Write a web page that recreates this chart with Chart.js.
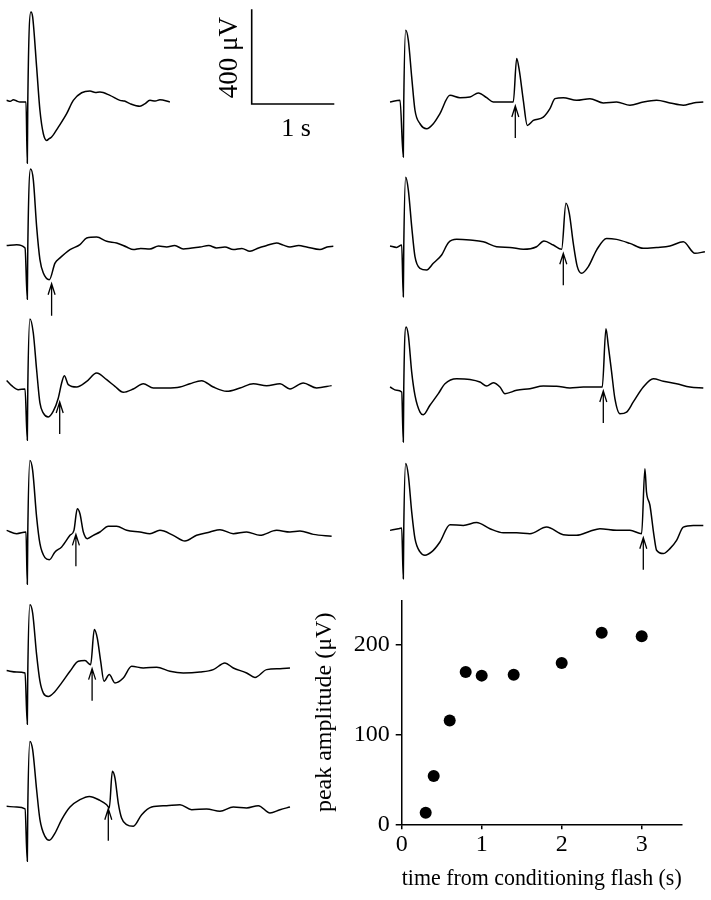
<!DOCTYPE html>
<html>
<head>
<meta charset="utf-8">
<script src="https://cdn.jsdelivr.net/npm/chart.js@4.4.1/dist/chart.umd.min.js"></script>
<style>
  html, body { margin: 0; padding: 0; background: #fff; }
  #fig { position: relative; width: 711px; height: 900px; overflow: hidden; }
  #fig canvas { position: absolute; }
</style>
</head>
<body>
<div id="fig"></div>
<script>
// ERG sweeps, [time from conditioning flash (s), voltage (uV)]
const sweepCond = [[-0.255,7],[-0.21,3],[-0.172,10],[-0.13,4],[-0.09,0],[-0.016,0],[0,-258],[0.006,0],[0.045,380],[0.066,359],[0.115,148],[0.156,-35],[0.198,-134],[0.239,-162],[0.27,-155],[0.3,-148],[0.383,-106],[0.486,-49],[0.568,7],[0.671,39],[0.774,46],[0.84,40],[0.897,42],[1.02,28],[1.144,7],[1.2,4],[1.267,-7],[1.391,-18],[1.45,-8],[1.514,7],[1.58,4],[1.637,10],[1.76,0]];
const sweep03 = [[-0.255,6],[-0.131,10],[-0.028,-4],[0,-220],[0.006,0],[0.041,329],[0.074,284],[0.115,87],[0.156,-53],[0.198,-110],[0.272,-138],[0.342,-68],[0.404,-46],[0.527,-11],[0.65,10],[0.733,38],[0.856,42],[0.98,24],[1.103,17],[1.227,0],[1.309,-11],[1.4,-6],[1.514,-8],[1.62,4],[1.72,0],[1.82,6],[1.926,-8],[2.132,0],[2.24,6],[2.337,-4],[2.44,0],[2.543,-11],[2.649,-6],[2.749,-18],[2.855,-4],[2.955,6],[3.078,17],[3.16,8],[3.243,0],[3.35,6],[3.449,0],[3.613,-11],[3.7,0],[3.778,3]];
const sweep04 = [[-0.255,32],[-0.193,10],[-0.111,-7],[-0.028,-4],[0,-220],[0.006,0],[0.033,291],[0.074,232],[0.115,77],[0.156,-63],[0.198,-106],[0.259,-122],[0.321,-98],[0.383,-42],[0.424,21],[0.457,52],[0.506,14],[0.609,4],[0.733,28],[0.856,63],[0.98,35],[1.082,7],[1.185,-18],[1.309,-4],[1.432,18],[1.556,0],[1.72,0],[1.885,4],[2.008,18],[2.152,31],[2.296,4],[2.461,-14],[2.626,0],[2.79,18],[2.955,10],[3.12,18],[3.243,-4],[3.407,21],[3.572,0],[3.757,10]];
const sweep06 = [[-0.255,7],[-0.131,-7],[-0.016,0],[0,-220],[0.006,0],[0.033,302],[0.066,260],[0.115,63],[0.156,-49],[0.218,-108],[0.272,-117],[0.342,-84],[0.424,-63],[0.527,-14],[0.576,7],[0.617,98],[0.65,77],[0.692,0],[0.741,-28],[0.815,-14],[0.897,0],[1.0,24],[1.103,24],[1.227,7],[1.391,0],[1.514,-7],[1.637,7],[1.802,-14],[1.946,-38],[2.09,-14],[2.255,0],[2.379,10],[2.543,-7],[2.708,0],[2.872,-14],[3.078,7],[3.243,0],[3.366,4],[3.531,-10],[3.757,-18]];
const sweep08 = [[-0.255,6],[-0.131,0],[-0.028,-4],[0,-220],[0.006,0],[0.033,284],[0.066,249],[0.115,73],[0.156,-39],[0.198,-89],[0.259,-103],[0.342,-82],[0.424,-46],[0.527,3],[0.63,45],[0.712,48],[0.782,31],[0.827,179],[0.864,143],[0.906,45],[0.947,-39],[1.012,-11],[1.082,-46],[1.185,-25],[1.288,24],[1.432,17],[1.597,20],[1.761,3],[1.926,-4],[2.132,0],[2.296,10],[2.44,38],[2.543,17],[2.708,-4],[2.811,-23],[2.955,10],[3.12,14],[3.243,17]];
const sweep10 = [[-0.255,7],[-0.131,4],[-0.028,-4],[0,-225],[0.006,0],[0.033,281],[0.066,246],[0.115,77],[0.156,-49],[0.218,-120],[0.272,-136],[0.342,-106],[0.424,-49],[0.527,4],[0.65,35],[0.766,49],[0.897,32],[0.98,14],[1.012,0],[1.05,155],[1.082,127],[1.123,21],[1.164,-42],[1.226,-70],[1.309,-77],[1.412,-28],[1.535,4],[1.72,10],[1.885,14],[2.029,-7],[2.214,-4],[2.379,-14],[2.543,4],[2.708,0],[2.852,10],[2.996,-21],[3.12,-7],[3.243,4]];
const sweep14 = [[-0.166,-4],[-0.041,3],[0,-236],[0.006,0],[0.03,298],[0.063,256],[0.105,101],[0.146,-39],[0.209,-96],[0.292,-117],[0.375,-96],[0.458,-53],[0.583,24],[0.708,14],[0.833,17],[0.938,34],[1.042,14],[1.125,-4],[1.25,-4],[1.375,-4],[1.417,179],[1.45,129],[1.5,3],[1.55,-103],[1.625,-82],[1.75,-68],[1.833,-32],[1.896,10],[2.0,14],[2.166,3],[2.333,10],[2.5,-8],[2.666,-4],[2.833,-18],[3.0,-4],[3.166,3],[3.333,-8],[3.5,-18],[3.625,-8],[3.75,-4]];
const sweep20 = [[-0.166,0],[-0.083,-6],[-0.02,4],[0,-214],[0.006,0],[0.03,290],[0.063,236],[0.105,82],[0.146,-45],[0.209,-94],[0.292,-101],[0.375,-73],[0.479,-38],[0.563,14],[0.667,28],[0.833,25],[1.0,18],[1.166,-3],[1.333,-6],[1.5,-14],[1.666,-3],[1.758,21],[1.875,4],[1.979,-14],[2.033,180],[2.075,138],[2.125,11],[2.175,-87],[2.229,-115],[2.313,-87],[2.416,-17],[2.541,32],[2.666,28],[2.833,11],[3.0,-10],[3.166,-6],[3.333,0],[3.5,18],[3.645,-31],[3.77,-24]];
const sweep25 = [[-0.166,0],[-0.083,-14],[-0.02,-21],[0,-232],[0.006,0],[0.034,253],[0.063,218],[0.105,63],[0.146,-35],[0.209,-106],[0.25,-117],[0.333,-77],[0.438,-28],[0.521,14],[0.667,35],[0.833,32],[0.958,21],[1.042,4],[1.125,18],[1.208,0],[1.271,-28],[1.416,-14],[1.583,-7],[1.75,4],[1.916,3],[2.083,-4],[2.25,0],[2.416,0],[2.487,0],[2.533,246],[2.562,176],[2.604,63],[2.645,-49],[2.708,-113],[2.791,-106],[2.875,-63],[3.0,0],[3.125,35],[3.25,24],[3.416,14],[3.583,0],[3.75,-4]];
const sweep30 = [[-0.166,-10],[-0.062,-3],[-0.02,0],[0,-214],[0.006,0],[0.03,272],[0.063,222],[0.105,68],[0.146,-45],[0.209,-101],[0.271,-115],[0.354,-101],[0.458,-59],[0.583,14],[0.75,11],[0.916,23],[1.083,-3],[1.25,-20],[1.416,-20],[1.583,-24],[1.791,4],[2.0,-28],[2.166,-31],[2.333,-14],[2.458,-3],[2.666,-10],[2.833,-10],[2.979,-24],[3.02,250],[3.04,152],[3.083,96],[3.133,-31],[3.166,-94],[3.25,-108],[3.333,-87],[3.416,-52],[3.5,4],[3.625,11],[3.75,11]];

// test flash intervals (s) and peak amplitude of the test response (uV)
const intervals = [0.3, 0.4, 0.6, 0.8, 1.0, 1.4, 2.0, 2.5, 3.0];
const peakAmp = [13, 54, 116, 170, 166, 167, 180, 214, 210];
const xTicks = [0, 1, 2, 3];
const yTicks = [0, 100, 200];

// scale bar: 1 s by 400 uV
const scaleBarT = [0, 0, 1];
const scaleBarUV = [400, 0, 0];

Chart.defaults.font.family = '"Liberation Serif", "Times New Roman", serif';
Chart.defaults.color = '#000';

const fig = document.getElementById('fig');
const UV_PX = 0.237;   // px per uV
function addCanvas(left, top, w, h) {
  const c = document.createElement('canvas');
  c.width = w; c.height = h;
  c.style.left = left + 'px'; c.style.top = top + 'px';
  c.style.width = w + 'px'; c.style.height = h + 'px';
  fig.appendChild(c);
  return c;
}

// arrow under the trace at the test flash
const testArrow = {
  id: 'testArrow',
  afterDatasetsDraw(chart, args, opts) {
    if (opts.time == null) return;
    const pts = chart.data.datasets[0].data;
    let v = pts[0].y;
    for (const p of pts) if (p.x <= opts.time) v = p.y;
    const x = chart.scales.x.getPixelForValue(opts.time);
    const tip = chart.scales.y.getPixelForValue(v) + 4;
    const ctx = chart.ctx;
    ctx.save();
    ctx.strokeStyle = '#000';
    ctx.lineWidth = 1.3;
    ctx.beginPath();
    ctx.moveTo(x, tip); ctx.lineTo(x, tip + 32);
    ctx.moveTo(x - 3.5, tip + 11); ctx.lineTo(x, tip); ctx.lineTo(x + 3.5, tip + 11);
    ctx.stroke();
    ctx.restore();
  }
};

// column layouts: canvas x range and the flash position / time scale
const cols = {
  left:  {left: 0,   width: 340, flashX: 27.3,  pxPerS: 81},
  right: {left: 385, width: 326, flashX: 18.3,  pxPerS: 80}
};
const panels = [
  {sweep: sweepCond, col: 'left',  base: 101.7, test: null},
  {sweep: sweep03,   col: 'left',  base: 247.3, test: intervals[0]},
  {sweep: sweep04,   col: 'left',  base: 388.3, test: intervals[1]},
  {sweep: sweep06,   col: 'left',  base: 531.7, test: intervals[2]},
  {sweep: sweep08,   col: 'left',  base: 672.3, test: intervals[3]},
  {sweep: sweep10,   col: 'left',  base: 808.3, test: intervals[4]},
  {sweep: sweep14,   col: 'right', base: 100.7, test: intervals[5]},
  {sweep: sweep20,   col: 'right', base: 246.0, test: intervals[6]},
  {sweep: sweep25,   col: 'right', base: 386.7, test: intervals[7]},
  {sweep: sweep30,   col: 'right', base: 527.7, test: intervals[8]}
];

const above = 100, below = 70;
panels.forEach(p => {
  const c = cols[p.col];
  const cv = addCanvas(c.left, p.base - above, c.width, above + below);
  new Chart(cv, {
    type: 'line',
    plugins: [testArrow],
    data: {
      datasets: [{
        data: p.sweep.map(([t, v]) => ({x: t, y: v})),
        borderColor: '#000',
        borderWidth: 1.5,
        pointRadius: 0,
        cubicInterpolationMode: 'monotone'
      }]
    },
    options: {
      responsive: false,
      animation: false,
      events: [],
      layout: {padding: 0},
      plugins: {legend: {display: false}, tooltip: {enabled: false}, testArrow: {time: p.test}},
      scales: {
        x: {type: 'linear', display: false, min: -c.flashX / c.pxPerS, max: (c.width - c.flashX) / c.pxPerS},
        y: {display: false, min: -below / UV_PX, max: above / UV_PX}
      }
    }
  });
});

// scale bar
const barLabels = {
  id: 'barLabels',
  afterDatasetsDraw(chart) {
    const {x, y} = chart.scales;
    const ctx = chart.ctx;
    ctx.save();
    ctx.fillStyle = '#000';
    ctx.font = '27px "Liberation Serif"';
    ctx.textAlign = 'center';
    ctx.textBaseline = 'middle';
    ctx.translate(x.getPixelForValue(0) - 22, y.getPixelForValue(scaleBarUV[0] / 2) + 1);
    ctx.rotate(-Math.PI / 2);
    ctx.fillText(scaleBarUV[0] + ' \u03bcV', 0, 0);
    ctx.restore();
    ctx.save();
    ctx.fillStyle = '#000';
    ctx.font = '26px "Liberation Serif"';
    ctx.textAlign = 'center';
    ctx.textBaseline = 'middle';
    ctx.fillText(scaleBarT[2] + ' s', x.getPixelForValue(scaleBarT[2] / 2) + 3, y.getPixelForValue(0) + 25);
    ctx.restore();
  }
};
{
  const left = 200, top = 0, w = 160, h = 150, x0 = 51.7, y0 = 104, sPx = 82.6, uvPx = 94.7 / 400;
  const cv = addCanvas(left, top, w, h);
  new Chart(cv, {
    type: 'line',
    plugins: [barLabels],
    data: {
      datasets: [{
        data: scaleBarT.map((t, i) => ({x: t, y: scaleBarUV[i]})),
        borderColor: '#000', borderWidth: 1.6, pointRadius: 0, tension: 0
      }]
    },
    options: {
      responsive: false, animation: false, events: [],
      plugins: {legend: {display: false}, tooltip: {enabled: false}},
      scales: {
        x: {type: 'linear', display: false, min: -x0 / sPx, max: (w - x0) / sPx},
        y: {display: false, min: -(h - y0) / uvPx, max: y0 / uvPx}
      }
    }
  });
}

// peak amplitude vs interval
{
  const cv = addCanvas(300, 580, 411, 320);
  const axisFont = {family: '"Liberation Serif"', size: 24};
  new Chart(cv, {
    type: 'scatter',
    data: {
      datasets: [{
        data: intervals.map((t, i) => ({x: t, y: peakAmp[i]})),
        backgroundColor: '#000',
        borderWidth: 0,
        pointRadius: 6,
        clip: false
      }]
    },
    options: {
      responsive: false, animation: false, events: [],
      layout: {padding: {top: 15, right: 29.3, left: 0, bottom: 0}},
      plugins: {legend: {display: false}, tooltip: {enabled: false}},
      scales: {
        x: {
          type: 'linear', min: 0, max: 3.5,
          afterBuildTicks: s => { s.ticks = xTicks.map(v => ({value: v})); },
          afterFit: s => { s.height = 75.7; },
          border: {display: true, color: '#000', width: 1.5},
          grid: {drawOnChartArea: false, drawTicks: true, tickLength: 5, color: '#000', lineWidth: 1.5},
          ticks: {color: '#000', font: axisFont, padding: 1, maxRotation: 0},
          title: {display: true, text: 'time from conditioning flash (s)', color: '#000', font: axisFont, padding: {top: 0, bottom: 7}}
        },
        y: {
          min: 0, max: 250,
          afterBuildTicks: s => { s.ticks = yTicks.map(v => ({value: v})); },
          afterFit: s => { s.width = 101.7; },
          border: {display: true, color: '#000', width: 1.5},
          grid: {drawOnChartArea: false, drawTicks: true, tickLength: 6, color: '#000', lineWidth: 1.5},
          ticks: {color: '#000', font: axisFont, padding: 6},
          title: {display: true, text: 'peak amplitude (\u03bcV)', color: '#000', font: axisFont, padding: {top: 10, bottom: 0}}
        }
      }
    }
  });
}
</script>
</body>
</html>
